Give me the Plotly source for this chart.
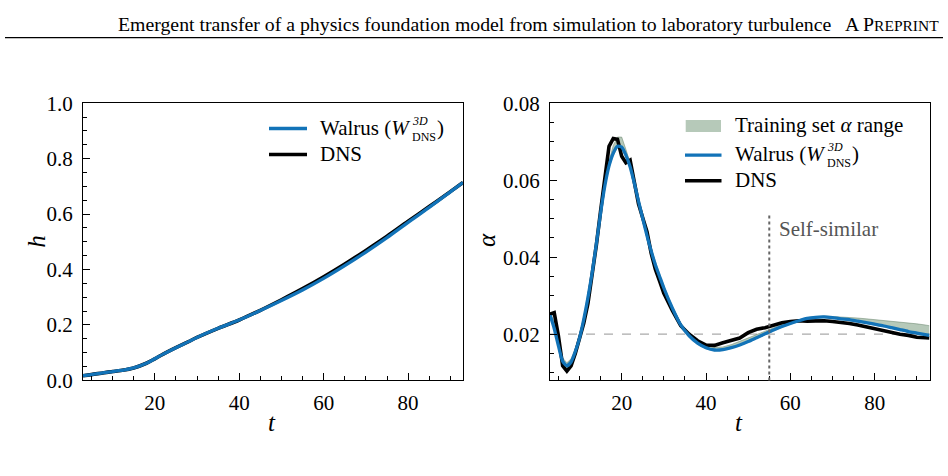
import plotly.graph_objects as go

W, H = 948, 476

# ---------------- data ----------------
t_h = [3, 5, 8, 10, 12, 15, 18, 20, 22, 25, 28, 30, 35, 40, 45, 50, 55, 60, 65, 70, 75, 80, 85, 90, 93]
h_walrus = [0.017, 0.021, 0.028, 0.032, 0.036, 0.045, 0.062, 0.078, 0.095, 0.118, 0.140, 0.155, 0.188,
            0.218, 0.252, 0.288, 0.326, 0.368, 0.414, 0.463, 0.515, 0.570, 0.624, 0.680, 0.714]
h_dns = [0.017, 0.021, 0.028, 0.032, 0.036, 0.045, 0.062, 0.078, 0.095, 0.118, 0.140, 0.155, 0.188,
         0.218, 0.253, 0.291, 0.331, 0.374, 0.420, 0.469, 0.520, 0.574, 0.627, 0.681, 0.714]

t_a = [3, 4, 5, 6, 7, 8, 9, 10, 11, 12, 13, 14, 15, 16, 17, 18, 19, 20, 21, 22, 23, 24, 25, 26, 27, 28, 29, 30,
       32, 34, 36, 38, 40, 42, 44, 46, 48, 50, 52, 54, 56, 58, 60, 62, 64, 66, 68, 70, 72, 74, 76, 78, 80,
       82, 84, 86, 88, 90, 92, 93]
a_walrus = [0.0250, 0.0215, 0.0170, 0.0130, 0.0118, 0.0128, 0.0155, 0.0190, 0.0238, 0.0295, 0.0360, 0.0435,
            0.0515, 0.0585, 0.0637, 0.0670, 0.0688, 0.0686, 0.0665, 0.0635, 0.0592, 0.0545, 0.0500, 0.0456,
            0.0416, 0.0380, 0.0350, 0.0320, 0.0268, 0.0224, 0.0196, 0.0177, 0.0165, 0.0159, 0.0160, 0.0165,
            0.0172, 0.0181, 0.0191, 0.0201, 0.0211, 0.0220, 0.0228, 0.0235, 0.0241, 0.0244, 0.0245, 0.0243,
            0.0240, 0.0238, 0.0234, 0.0230, 0.0226, 0.0222, 0.0217, 0.0212, 0.0207, 0.0203, 0.0199, 0.0197]
a_dns = [0.0252, 0.0256, 0.0195, 0.0118, 0.0104, 0.0118, 0.0150, 0.0188, 0.0228, 0.0280, 0.0350, 0.0432,
         0.0520, 0.0610, 0.0688, 0.0708, 0.0706, 0.0662, 0.0645, 0.0652, 0.0592, 0.0538, 0.0502, 0.0466,
         0.0410, 0.0368, 0.0338, 0.0306, 0.0262, 0.0222, 0.0200, 0.0183, 0.0172, 0.0171, 0.0178, 0.0184,
         0.0190, 0.0204, 0.0213, 0.0217, 0.0223, 0.0230, 0.0233, 0.0235, 0.0234, 0.0235, 0.0235, 0.0233,
         0.0231, 0.0228, 0.0224, 0.0219, 0.0214, 0.0210, 0.0206, 0.0200, 0.0197, 0.0192, 0.0191, 0.0190]
train_lo = [0.0245, 0.0212, 0.0168, 0.0125, 0.0112, 0.0122, 0.0150, 0.0186, 0.0232, 0.0288, 0.0354, 0.0430,
            0.0510, 0.0580, 0.0632, 0.0665, 0.0684, 0.0680, 0.0660, 0.0630, 0.0588, 0.0541, 0.0496, 0.0452,
            0.0412, 0.0376, 0.0346, 0.0316, 0.0264, 0.0220, 0.0193, 0.0174, 0.0162, 0.0157, 0.0158, 0.0163,
            0.0170, 0.0179, 0.0189, 0.0199, 0.0209, 0.0218, 0.0226, 0.0233, 0.0239, 0.0242, 0.0243, 0.0241,
            0.0238, 0.0236, 0.0232, 0.0228, 0.0224, 0.0220, 0.0215, 0.0210, 0.0205, 0.0201, 0.0197, 0.0195]
train_hi = [0.0258, 0.0232, 0.0180, 0.0138, 0.0126, 0.0136, 0.0163, 0.0198, 0.0245, 0.0302, 0.0368, 0.0444,
            0.0524, 0.0596, 0.0650, 0.0690, 0.0712, 0.0712, 0.0680, 0.0645, 0.0600, 0.0552, 0.0507, 0.0463,
            0.0422, 0.0386, 0.0356, 0.0326, 0.0273, 0.0229, 0.0201, 0.0183, 0.0171, 0.0166, 0.0167, 0.0173,
            0.0181, 0.0190, 0.0199, 0.0208, 0.0217, 0.0225, 0.0232, 0.0238, 0.0243, 0.0246, 0.0247, 0.0246,
            0.0245, 0.0244, 0.0242, 0.0240, 0.0238, 0.0236, 0.0234, 0.0232, 0.0229, 0.0227, 0.0224, 0.0222]

alpha_ref = 0.02
t_selfsim = 55
x_ticks = [20, 40, 60, 80]
h_ticks = [0.0, 0.2, 0.4, 0.6, 0.8, 1.0]
a_ticks = [0.02, 0.04, 0.06, 0.08]

header_title = "Emergent transfer of a physics foundation model from simulation to laboratory turbulence"
lbl_walrus = "Walrus ("
lbl_dns = "DNS"
lbl_train = "Training set <i>α</i> range"
lbl_selfsim = "Self-similar"

# ---------------- style ----------------
BLUE = "#1273b8"
BLACK = "#000000"
FONT = "'Liberation Serif', serif"
FS = 21


def px(x):
    return x / W


def py(y):
    return 1 - y / H


fig = go.Figure()

# left panel
fig.add_trace(go.Scatter(x=t_h, y=h_dns, mode="lines", line=dict(color=BLACK, width=3.6, shape="spline"),
                         xaxis="x", yaxis="y", showlegend=False, name="DNS"))
fig.add_trace(go.Scatter(x=t_h, y=h_walrus, mode="lines", line=dict(color=BLUE, width=3.3, shape="spline"),
                         xaxis="x", yaxis="y", showlegend=False, name="Walrus"))

# right panel
fig.add_trace(go.Scatter(x=t_a, y=train_lo, mode="lines", line=dict(color="rgba(95,125,100,0.6)", width=0.8),
                         xaxis="x2", yaxis="y2", showlegend=False, hoverinfo="skip"))
fig.add_trace(go.Scatter(x=t_a, y=train_hi, mode="lines", line=dict(color="rgba(95,125,100,0.6)", width=0.8),
                         fill="tonexty", fillcolor="rgba(122,156,128,0.55)",
                         xaxis="x2", yaxis="y2", showlegend=False, name="Training set range"))
fig.add_trace(go.Scatter(x=t_a, y=a_dns, mode="lines", line=dict(color=BLACK, width=3.6),
                         xaxis="x2", yaxis="y2", showlegend=False, name="DNS"))
fig.add_trace(go.Scatter(x=t_a, y=a_walrus, mode="lines", line=dict(color=BLUE, width=3.3, shape="spline", smoothing=0.6),
                         xaxis="x2", yaxis="y2", showlegend=False, name="Walrus"))

tickfont = dict(family=FONT, size=FS, color="black")
common = dict(showline=True, linecolor="black", linewidth=1.3, mirror=True, ticks="inside", ticklen=7,
              tickwidth=1.2, tickcolor="black", showgrid=False, zeroline=False, tickfont=tickfont)

xdom1 = [px(83), px(463)]
xdom2 = [px(550), px(929.5)]
ydom = [py(388), py(96)]

fig.update_layout(
    width=W, height=H, margin=dict(l=0, r=0, t=0, b=0),
    paper_bgcolor="white", plot_bgcolor="white", showlegend=False,
    font=dict(family=FONT),
    xaxis=dict(domain=xdom1, range=[3, 93], tickvals=x_ticks, anchor="y", ticklabelstandoff=3,
               minor=dict(dtick=5, tick0=0, ticklen=4, tickwidth=1, ticks="inside", tickcolor="black"), **common),
    yaxis=dict(domain=ydom, range=[0, 1], tickvals=h_ticks, tickformat=".1f", anchor="x", ticklabelstandoff=5,
               minor=dict(dtick=0.05, tick0=0, ticklen=4, tickwidth=1, ticks="inside", tickcolor="black"), **common),
    xaxis2=dict(domain=xdom2, range=[3, 93], tickvals=x_ticks, anchor="y2", ticklabelstandoff=3,
                minor=dict(dtick=5, tick0=0, ticklen=4, tickwidth=1, ticks="inside", tickcolor="black"), **common),
    yaxis2=dict(domain=ydom, range=[0.008, 0.08], tickvals=a_ticks, tickformat=".2f", anchor="x2", ticklabelstandoff=5,
                minor=dict(dtick=0.005, tick0=0, ticklen=4, tickwidth=1, ticks="inside", tickcolor="black"), **common),
)

shapes = []
# reference lines
shapes.append(dict(type="line", xref="x2 domain", yref="y2", x0=0, x1=1, y0=alpha_ref, y1=alpha_ref,
                   line=dict(color="#aaaaaa", width=1.3, dash="dash"), layer="below"))
shapes.append(dict(type="line", xref="x2", yref="y2 domain", x0=t_selfsim, x1=t_selfsim, y0=0, y1=0.6,
                   line=dict(color="#666666", width=2, dash="dot")))
# header rule
shapes.append(dict(type="line", xref="paper", yref="paper", x0=px(5), x1=px(943), y0=py(27), y1=py(27),
                   line=dict(color="black", width=1.2)))

# manual legends
def legline(x0, x1, y, color, width):
    shapes.append(dict(type="line", xref="paper", yref="paper", x0=px(x0), x1=px(x1), y0=py(y), y1=py(y),
                       line=dict(color=color, width=width)))

legline(269, 307, 122.7, BLUE, 3.3)
legline(269, 307, 150, BLACK, 3.6)
shapes.append(dict(type="rect", xref="paper", yref="paper", x0=px(685.7), x1=px(721), y0=py(126.5), y1=py(113.7),
                   fillcolor="rgba(122,156,128,0.55)", line=dict(width=0)))
legline(685, 721.5, 150.7, BLUE, 3.3)
legline(685, 721.5, 177.7, BLACK, 3.6)

ann = []


def text(x, y, s, size=FS, xanchor="left", yanchor="middle", color="black", family=FONT, angle=0):
    ann.append(dict(xref="paper", yref="paper", x=px(x), y=py(y), text=s, showarrow=False, xanchor=xanchor,
                    yanchor=yanchor, textangle=angle, borderpad=0,
                    font=dict(family=family, size=size, color=color)))


def walrus_label(x0, yc):
    text(x0, yc, lbl_walrus + "<i>W</i>")
    text(x0 + 92, yc + 0.8, "<i>3D</i>", size=12, yanchor="bottom")
    text(x0 + 92, yc + 0.8, "DNS", size=12, yanchor="top")
    text(x0 + 117, yc, ")")


walrus_label(319, 122)
text(319, 149.5, lbl_dns)
text(734, 119.5, lbl_train)
walrus_label(734, 150)
text(734, 177, lbl_dns)

text(778, 229, lbl_selfsim, color="#555555")

# axis labels
text(272, 432, "<i>t</i>", size=25, xanchor="center")
text(739, 432, "<i>t</i>", size=25, xanchor="center")
text(37, 242, "<i>h</i>", size=25, xanchor="center", angle=-90)
text(487, 240, "<i>α</i>", size=25, xanchor="center", angle=-90)

# header
text(940, 13, header_title + "   A P<span style='font-size:15.5px'>REPRINT</span>", size=19.8,
     xanchor="right", family="'Liberation Serif', serif")

fig.update_layout(shapes=shapes, annotations=ann)
fig.write_html("out.html")
